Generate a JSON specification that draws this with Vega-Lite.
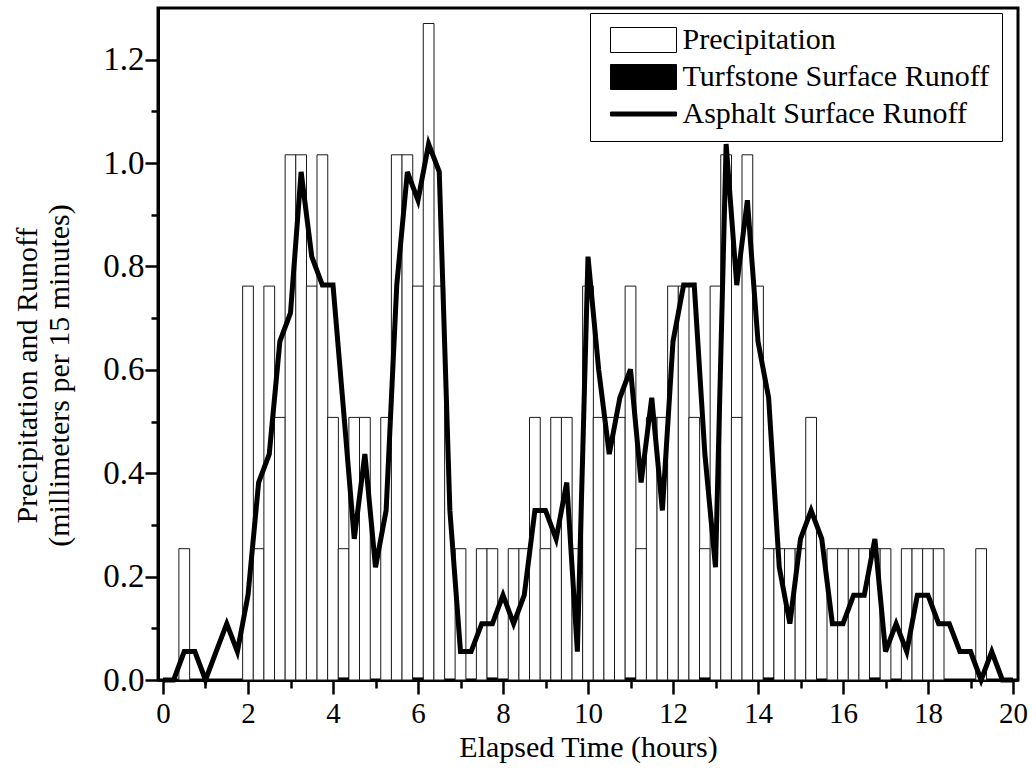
{
  "$schema": "https://vega.github.io/schema/vega-lite/v6.json",
  "width": 860,
  "height": 672,
  "autosize": {"type": "none"},
  "padding": {"left": 158, "top": 8, "right": 18, "bottom": 90},
  "background": "white",
  "config": {
    "font": "Liberation Serif",
    "view": {"stroke": "black", "strokeWidth": 3}
  },
  "data": {
    "values": [
      {"t": 0, "precip": 0, "turf": 0, "asphalt": 0},
      {"t": 0.25, "precip": 0, "turf": 0, "asphalt": 0},
      {"t": 0.5, "precip": 0.254, "turf": 0, "asphalt": 0.055},
      {"t": 0.75, "precip": 0, "turf": 0, "asphalt": 0.055},
      {"t": 1, "precip": 0, "turf": 0, "asphalt": 0},
      {"t": 1.25, "precip": 0, "turf": 0, "asphalt": 0.055},
      {"t": 1.5, "precip": 0, "turf": 0, "asphalt": 0.109},
      {"t": 1.75, "precip": 0, "turf": 0, "asphalt": 0.055},
      {"t": 2, "precip": 0.762, "turf": 0, "asphalt": 0.164},
      {"t": 2.25, "precip": 0.254, "turf": 0, "asphalt": 0.382},
      {"t": 2.5, "precip": 0.762, "turf": 0, "asphalt": 0.437},
      {"t": 2.75, "precip": 0.508, "turf": 0, "asphalt": 0.655},
      {"t": 3, "precip": 1.016, "turf": 0, "asphalt": 0.71},
      {"t": 3.25, "precip": 1.016, "turf": 0, "asphalt": 0.983},
      {"t": 3.5, "precip": 0.762, "turf": 0, "asphalt": 0.819},
      {"t": 3.75, "precip": 1.016, "turf": 0, "asphalt": 0.764},
      {"t": 4, "precip": 0.508, "turf": 0, "asphalt": 0.764},
      {"t": 4.25, "precip": 0.254, "turf": 0.005, "asphalt": 0.52},
      {"t": 4.5, "precip": 0.508, "turf": 0, "asphalt": 0.273},
      {"t": 4.75, "precip": 0.508, "turf": 0, "asphalt": 0.437},
      {"t": 5, "precip": 0, "turf": 0, "asphalt": 0.218},
      {"t": 5.25, "precip": 0.508, "turf": 0, "asphalt": 0.328},
      {"t": 5.5, "precip": 1.016, "turf": 0, "asphalt": 0.764},
      {"t": 5.75, "precip": 1.016, "turf": 0, "asphalt": 0.983},
      {"t": 6, "precip": 0.762, "turf": 0.005, "asphalt": 0.928},
      {"t": 6.25, "precip": 1.27, "turf": 0, "asphalt": 1.037},
      {"t": 6.5, "precip": 0.762, "turf": 0, "asphalt": 0.983},
      {"t": 6.75, "precip": 0, "turf": 0, "asphalt": 0.328},
      {"t": 7, "precip": 0.254, "turf": 0, "asphalt": 0.055},
      {"t": 7.25, "precip": 0, "turf": 0, "asphalt": 0.055},
      {"t": 7.5, "precip": 0.254, "turf": 0, "asphalt": 0.109},
      {"t": 7.75, "precip": 0.254, "turf": 0.005, "asphalt": 0.109},
      {"t": 8, "precip": 0, "turf": 0, "asphalt": 0.164},
      {"t": 8.25, "precip": 0.254, "turf": 0, "asphalt": 0.109},
      {"t": 8.5, "precip": 0.254, "turf": 0, "asphalt": 0.164},
      {"t": 8.75, "precip": 0.508, "turf": 0, "asphalt": 0.328},
      {"t": 9, "precip": 0.254, "turf": 0, "asphalt": 0.328},
      {"t": 9.25, "precip": 0.508, "turf": 0, "asphalt": 0.273},
      {"t": 9.5, "precip": 0.508, "turf": 0, "asphalt": 0.382},
      {"t": 9.75, "precip": 0.254, "turf": 0, "asphalt": 0.055},
      {"t": 10, "precip": 0.762, "turf": 0, "asphalt": 0.819},
      {"t": 10.25, "precip": 0.508, "turf": 0, "asphalt": 0.601},
      {"t": 10.5, "precip": 0.508, "turf": 0, "asphalt": 0.437},
      {"t": 10.75, "precip": 0.508, "turf": 0, "asphalt": 0.546},
      {"t": 11, "precip": 0.762, "turf": 0.005, "asphalt": 0.601},
      {"t": 11.25, "precip": 0.254, "turf": 0, "asphalt": 0.382},
      {"t": 11.5, "precip": 0.508, "turf": 0, "asphalt": 0.546},
      {"t": 11.75, "precip": 0.508, "turf": 0, "asphalt": 0.328},
      {"t": 12, "precip": 0.762, "turf": 0, "asphalt": 0.655},
      {"t": 12.25, "precip": 0.762, "turf": 0, "asphalt": 0.764},
      {"t": 12.5, "precip": 0.508, "turf": 0, "asphalt": 0.764},
      {"t": 12.75, "precip": 0.254, "turf": 0.005, "asphalt": 0.437},
      {"t": 13, "precip": 0.762, "turf": 0, "asphalt": 0.218},
      {"t": 13.25, "precip": 1.016, "turf": 0, "asphalt": 1.037},
      {"t": 13.5, "precip": 0.508, "turf": 0, "asphalt": 0.764},
      {"t": 13.75, "precip": 1.016, "turf": 0, "asphalt": 0.928},
      {"t": 14, "precip": 0.762, "turf": 0, "asphalt": 0.655},
      {"t": 14.25, "precip": 0.254, "turf": 0.005, "asphalt": 0.546},
      {"t": 14.5, "precip": 0.254, "turf": 0, "asphalt": 0.218},
      {"t": 14.75, "precip": 0.254, "turf": 0, "asphalt": 0.109},
      {"t": 15, "precip": 0.254, "turf": 0, "asphalt": 0.273},
      {"t": 15.25, "precip": 0.508, "turf": 0, "asphalt": 0.328},
      {"t": 15.5, "precip": 0, "turf": 0, "asphalt": 0.273},
      {"t": 15.75, "precip": 0.254, "turf": 0, "asphalt": 0.109},
      {"t": 16, "precip": 0.254, "turf": 0, "asphalt": 0.109},
      {"t": 16.25, "precip": 0.254, "turf": 0, "asphalt": 0.164},
      {"t": 16.5, "precip": 0.254, "turf": 0, "asphalt": 0.164},
      {"t": 16.75, "precip": 0.254, "turf": 0.005, "asphalt": 0.273},
      {"t": 17, "precip": 0.254, "turf": 0, "asphalt": 0.055},
      {"t": 17.25, "precip": 0, "turf": 0, "asphalt": 0.109},
      {"t": 17.5, "precip": 0.254, "turf": 0, "asphalt": 0.055},
      {"t": 17.75, "precip": 0.254, "turf": 0, "asphalt": 0.164},
      {"t": 18, "precip": 0.254, "turf": 0, "asphalt": 0.164},
      {"t": 18.25, "precip": 0.254, "turf": 0, "asphalt": 0.109},
      {"t": 18.5, "precip": 0, "turf": 0, "asphalt": 0.109},
      {"t": 18.75, "precip": 0, "turf": 0, "asphalt": 0.055},
      {"t": 19, "precip": 0, "turf": 0, "asphalt": 0.055},
      {"t": 19.25, "precip": 0.254, "turf": 0, "asphalt": 0},
      {"t": 19.5, "precip": 0, "turf": 0, "asphalt": 0.055},
      {"t": 19.75, "precip": 0, "turf": 0, "asphalt": 0},
      {"t": 20, "precip": 0, "turf": 0, "asphalt": 0}
    ]
  },
  "transform": [{"fold": ["precip", "turf", "asphalt"], "as": ["series_key", "value"]}],
  "encoding": {
    "x": {
      "field": "t",
      "type": "quantitative",
      "scale": {"domain": [0, 20], "nice": false, "zero": false},
      "axis": {
        "values": [0,1,2,3,4,5,6,7,8,9,10,11,12,13,14,15,16,17,18,19,20],
        "labelExpr": "datum.value % 2 == 0 ? datum.label : ''",
        "tickSize": {"condition": {"test": "datum.value % 2 == 0", "value": 14}, "value": 8},
        "tickWidth": 2.5,
        "tickColor": "black",
        "domainColor": "black",
        "domainWidth": 3,
        "grid": false,
        "labelFont": "Liberation Serif",
        "labelFontSize": 29,
        "labelColor": "black",
        "labelPadding": 5,
        "labelFlush": false,
        "labelOverlap": false,
        "title": "Elapsed Time (hours)",
        "titleFont": "Liberation Serif",
        "titleFontSize": 30,
        "titleFontWeight": "normal",
        "titleColor": "black",
        "titleY": 76,
        "titleBaseline": "alphabetic"
      }
    },
    "y": {
      "field": "value",
      "type": "quantitative",
      "scale": {"domain": [0, 1.3], "nice": false},
      "axis": {
        "values": [0,0.1,0.2,0.3,0.4,0.5,0.6,0.7,0.8,0.9,1.0,1.1,1.2],
        "labelExpr": "round(datum.value*10) % 2 == 0 ? format(datum.value, '.1f') : ''",
        "tickSize": {"condition": {"test": "round(datum.value*10) % 2 == 0", "value": 13}, "value": 7},
        "tickWidth": 2.5,
        "tickColor": "black",
        "domainColor": "black",
        "domainWidth": 3,
        "grid": false,
        "labelFont": "Liberation Serif",
        "labelFontSize": 33,
        "labelColor": "black",
        "labelPadding": 1,
        "labelOverlap": false,
        "title": ["Precipitation and Runoff", "(millimeters per 15 minutes)"],
        "titleFont": "Liberation Serif",
        "titleFontSize": 30,
        "titleFontWeight": "normal",
        "titleColor": "black",
        "titleLineHeight": 32,
        "titleX": -131,
        "titleY": 367,
        "titleAngle": 270,
        "titleAlign": "center",
        "titleBaseline": "middle"
      }
    }
  },
  "layer": [
    {
      "transform": [{"filter": "datum.series_key == 'precip' && datum.value > 0"}],
      "mark": {"type": "bar", "width": 10.75, "fill": "white", "stroke": "#1a1a1a", "strokeWidth": 1}
    },
    {
      "transform": [{"filter": "datum.series_key == 'turf' && datum.value > 0"}],
      "mark": {"type": "bar", "width": 10.75, "fill": "black"}
    },
    {
      "transform": [{"filter": "datum.series_key == 'asphalt'"}],
      "mark": {"type": "line", "stroke": "black", "strokeWidth": 5, "strokeMiterLimit": 4}
    },
    {
      "transform": [{"filter": "datum.t == 0"}],
      "mark": {"type": "point", "filled": true, "opacity": 0, "strokeWidth": 1},
      "encoding": {
        "fill": {
          "field": "series_key",
          "type": "nominal",
          "scale": {"domain": ["precip", "turf", "asphalt"], "range": ["white", "black", "black"]},
          "legend": {
            "orient": "none",
            "legendX": 432,
            "legendY": 5,
            "direction": "vertical",
            "title": null,
            "padding": 12,
            "strokeColor": "black",
            "fillColor": "white",
            "labelFont": "Liberation Serif",
            "labelFontSize": 30,
            "labelColor": "black",
            "labelLimit": 0,
            "labelExpr": "datum.value == 'precip' ? 'Precipitation' : (datum.value == 'turf' ? 'Turfstone Surface Runoff' : 'Asphalt Surface Runoff')",
            "symbolSize": 625,
            "symbolOffset": 26.5,
            "symbolOpacity": 1,
            "symbolStrokeWidth": 1,
            "labelOffset": 24,
            "rowPadding": 7
          }
        },
        "stroke": {
          "field": "series_key",
          "type": "nominal",
          "scale": {"domain": ["precip", "turf", "asphalt"], "range": ["black", "black", "black"]},
          "legend": {
            "orient": "none",
            "legendX": 432,
            "legendY": 5,
            "direction": "vertical",
            "title": null,
            "padding": 12,
            "strokeColor": "black",
            "fillColor": "white",
            "labelFont": "Liberation Serif",
            "labelFontSize": 30,
            "labelColor": "black",
            "labelLimit": 0,
            "labelExpr": "datum.value == 'precip' ? 'Precipitation' : (datum.value == 'turf' ? 'Turfstone Surface Runoff' : 'Asphalt Surface Runoff')",
            "symbolSize": 625,
            "symbolOffset": 26.5,
            "symbolOpacity": 1,
            "symbolStrokeWidth": 1,
            "labelOffset": 24,
            "rowPadding": 7
          }
        },
        "shape": {
          "field": "series_key",
          "type": "nominal",
          "scale": {
            "domain": ["precip", "turf", "asphalt"],
            "range": ["M-2.64,-1H2.64V1H-2.64Z", "M-2.64,-1H2.64V1H-2.64Z", "M-2.64,-0.16H2.64V0.16H-2.64Z"]
          },
          "legend": {
            "orient": "none",
            "legendX": 432,
            "legendY": 5,
            "direction": "vertical",
            "title": null,
            "padding": 12,
            "strokeColor": "black",
            "fillColor": "white",
            "labelFont": "Liberation Serif",
            "labelFontSize": 30,
            "labelColor": "black",
            "labelLimit": 0,
            "labelExpr": "datum.value == 'precip' ? 'Precipitation' : (datum.value == 'turf' ? 'Turfstone Surface Runoff' : 'Asphalt Surface Runoff')",
            "symbolSize": 625,
            "symbolOffset": 26.5,
            "symbolOpacity": 1,
            "symbolStrokeWidth": 1,
            "labelOffset": 24,
            "rowPadding": 7
          }
        }
      }
    }
  ]
}
